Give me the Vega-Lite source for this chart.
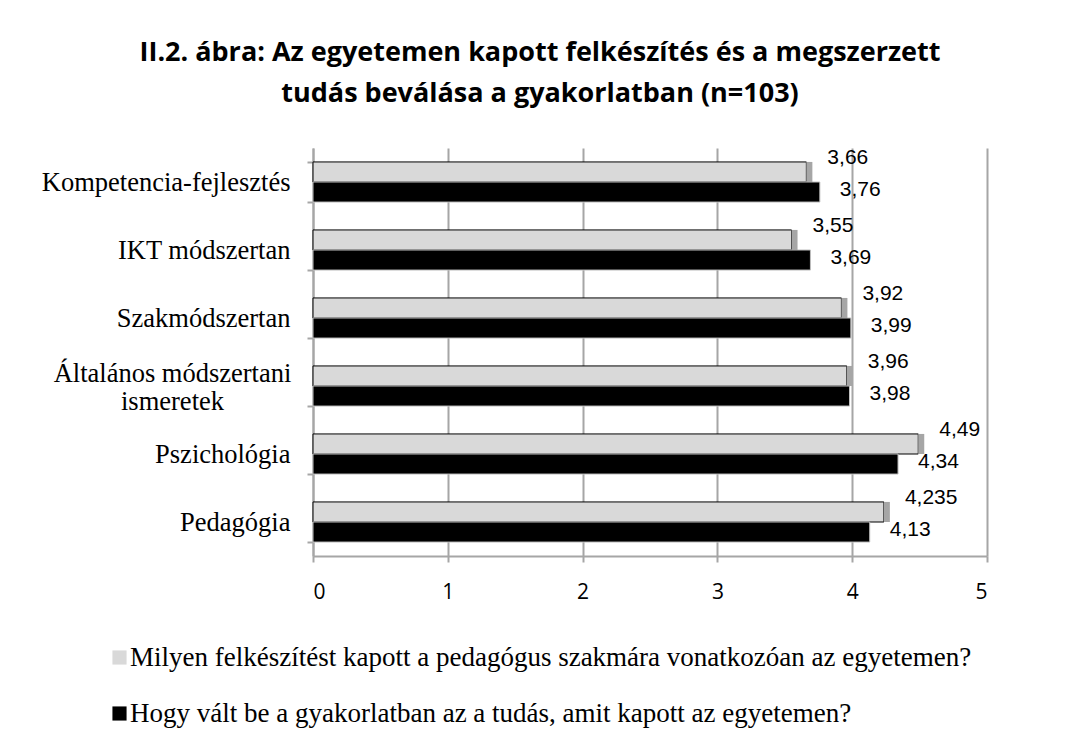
{
  "$schema": "https://vega.github.io/schema/vega-lite/v6.json",
  "autosize": "none",
  "width": 674,
  "height": 408,
  "padding": {"left": 313, "top": 148, "right": 83, "bottom": 184},
  "background": "white",
  "config": {
    "view": {"stroke": null},
    "locale": {"number": {"decimal": ",", "thousands": " ", "grouping": [3], "currency": ["", " Ft"]}}
  },
  "title": {
    "text": ["II.2. ábra: Az egyetemen kapott felkészítés és a megszerzett", "tudás beválása a gyakorlatban (n=103)"],
    "font": "Open Sans",
    "fontSize": 27,
    "fontWeight": "bold",
    "color": "#000000",
    "lineHeight": 41,
    "anchor": "middle",
    "dx": -110,
    "offset": 27
  },
  "data": {
    "values": [
      {"category": "Kompetencia-fejlesztés", "series": "Milyen felkészítést kapott a pedagógus szakmára vonatkozóan az egyetemen?", "value": 3.66},
      {"category": "Kompetencia-fejlesztés", "series": "Hogy vált be a gyakorlatban az a tudás, amit kapott az egyetemen?", "value": 3.76},
      {"category": "IKT módszertan", "series": "Milyen felkészítést kapott a pedagógus szakmára vonatkozóan az egyetemen?", "value": 3.55},
      {"category": "IKT módszertan", "series": "Hogy vált be a gyakorlatban az a tudás, amit kapott az egyetemen?", "value": 3.69},
      {"category": "Szakmódszertan", "series": "Milyen felkészítést kapott a pedagógus szakmára vonatkozóan az egyetemen?", "value": 3.92},
      {"category": "Szakmódszertan", "series": "Hogy vált be a gyakorlatban az a tudás, amit kapott az egyetemen?", "value": 3.99},
      {"category": "Általános módszertani ismeretek", "series": "Milyen felkészítést kapott a pedagógus szakmára vonatkozóan az egyetemen?", "value": 3.96},
      {"category": "Általános módszertani ismeretek", "series": "Hogy vált be a gyakorlatban az a tudás, amit kapott az egyetemen?", "value": 3.98},
      {"category": "Pszichológia", "series": "Milyen felkészítést kapott a pedagógus szakmára vonatkozóan az egyetemen?", "value": 4.49},
      {"category": "Pszichológia", "series": "Hogy vált be a gyakorlatban az a tudás, amit kapott az egyetemen?", "value": 4.34},
      {"category": "Pedagógia", "series": "Milyen felkészítést kapott a pedagógus szakmára vonatkozóan az egyetemen?", "value": 4.235},
      {"category": "Pedagógia", "series": "Hogy vált be a gyakorlatban az a tudás, amit kapott az egyetemen?", "value": 4.13}
    ]
  },
  "encoding": {
    "y": {
      "field": "category",
      "type": "nominal",
      "sort": null,
      "scale": {"paddingInner": 0.41, "paddingOuter": 0.205},
      "axis": {
        "title": null,
        "labelFont": "Liberation Serif",
        "labelFontSize": 26.5,
        "labelColor": "#000000",
        "labelPadding": {"condition": {"test": "datum.value == 'Általános módszertani ismeretek'", "value": 135}, "value": 17},
        "labelAlign": {"condition": {"test": "datum.value == 'Általános módszertani ismeretek'", "value": "center"}, "value": "right"},
        "labelLimit": 400,
        "labelLineHeight": 28,
        "labelOffset": {"condition": {"test": "datum.value == 'Általános módszertani ismeretek'", "value": -13}, "value": 0},
        "labelExpr": "datum.label == 'Általános módszertani ismeretek' ? ['Általános módszertani', 'ismeretek'] : datum.label",
        "domainColor": "#a6a6a6",
        "domainWidth": 2,
        "tickColor": "#a6a6a6",
        "tickWidth": 2,
        "tickSize": 6,
        "tickBand": "extent",
        "grid": false
      }
    },
    "x": {
      "field": "value",
      "type": "quantitative",
      "scale": {"domain": [0, 5], "nice": false},
      "axis": {
        "title": null,
        "values": [0, 1, 2, 3, 4, 5],
        "format": "d",
        "labelFont": "Open Sans",
        "labelFontSize": 21,
        "labelColor": "#000000",
        "labelPadding": 19,
        "domainColor": "#a6a6a6",
        "domainWidth": 2,
        "tickColor": "#a6a6a6",
        "tickWidth": 2,
        "tickSize": 6,
        "grid": true,
        "gridColor": "#a6a6a6",
        "gridWidth": 2
      }
    }
  },
  "layer": [
    {
      "mark": {"type": "bar", "strokeWidth": 1},
      "encoding": {
        "yOffset": {"field": "series", "type": "nominal", "sort": ["Milyen felkészítést kapott a pedagógus szakmára vonatkozóan az egyetemen?", "Hogy vált be a gyakorlatban az a tudás, amit kapott az egyetemen?"], "scale": {"paddingInner": 0, "paddingOuter": 0}},
        "color": {
          "field": "series",
          "type": "nominal",
          "sort": ["Milyen felkészítést kapott a pedagógus szakmára vonatkozóan az egyetemen?", "Hogy vált be a gyakorlatban az a tudás, amit kapott az egyetemen?"],
          "scale": {"range": ["#d9d9d9", "#000000"]},
          "legend": {
            "title": null,
            "orient": "none",
            "legendX": -207,
            "legendY": 496,
            "direction": "vertical",
            "symbolType": "square",
            "symbolSize": 200,
            "symbolStrokeWidth": 0,
            "labelFont": "Liberation Serif",
            "labelFontSize": 27,
            "labelColor": "#000000",
            "labelLimit": 1000,
            "rowPadding": 28,
            "labelOffset": -3
          }
        },
        "stroke": {
          "field": "series",
          "type": "nominal",
          "scale": {"range": ["#bfbfbf", "#000000"]},
          "legend": null
        }
      }
    },
    {
      "transform": [{"filter": "datum.series == 'Milyen felkészítést kapott a pedagógus szakmára vonatkozóan az egyetemen?'"}],
      "mark": {"type": "bar", "color": "#a6a6a6", "x2Offset": 6, "yOffset": -3},
      "encoding": {
        "x2": {"field": "value"},
        "yOffset": {"field": "series", "type": "nominal", "sort": ["Milyen felkészítést kapott a pedagógus szakmára vonatkozóan az egyetemen?", "Hogy vált be a gyakorlatban az a tudás, amit kapott az egyetemen?"], "scale": {"paddingInner": 0, "paddingOuter": 0}}
      }
    },
    {
      "transform": [{"filter": "datum.series == 'Milyen felkészítést kapott a pedagógus szakmára vonatkozóan az egyetemen?'"}],
      "mark": {"type": "text", "align": "left", "baseline": "middle", "dx": 21, "dy": -14, "font": "Liberation Sans", "fontSize": 21, "color": "#000000"},
      "encoding": {
        "yOffset": {"field": "series", "type": "nominal", "sort": ["Milyen felkészítést kapott a pedagógus szakmára vonatkozóan az egyetemen?", "Hogy vált be a gyakorlatban az a tudás, amit kapott az egyetemen?"], "scale": {"paddingInner": 0, "paddingOuter": 0}},
        "text": {"field": "value", "type": "quantitative", "format": ".3~f"}
      }
    },
    {
      "transform": [{"filter": "datum.series == 'Hogy vált be a gyakorlatban az a tudás, amit kapott az egyetemen?'"}],
      "mark": {"type": "text", "align": "left", "baseline": "middle", "dx": 20, "dy": -2, "font": "Liberation Sans", "fontSize": 21, "color": "#000000"},
      "encoding": {
        "yOffset": {"field": "series", "type": "nominal", "sort": ["Milyen felkészítést kapott a pedagógus szakmára vonatkozóan az egyetemen?", "Hogy vált be a gyakorlatban az a tudás, amit kapott az egyetemen?"], "scale": {"paddingInner": 0, "paddingOuter": 0}},
        "text": {"field": "value", "type": "quantitative", "format": ".3~f"}
      }
    }
  ]
}
